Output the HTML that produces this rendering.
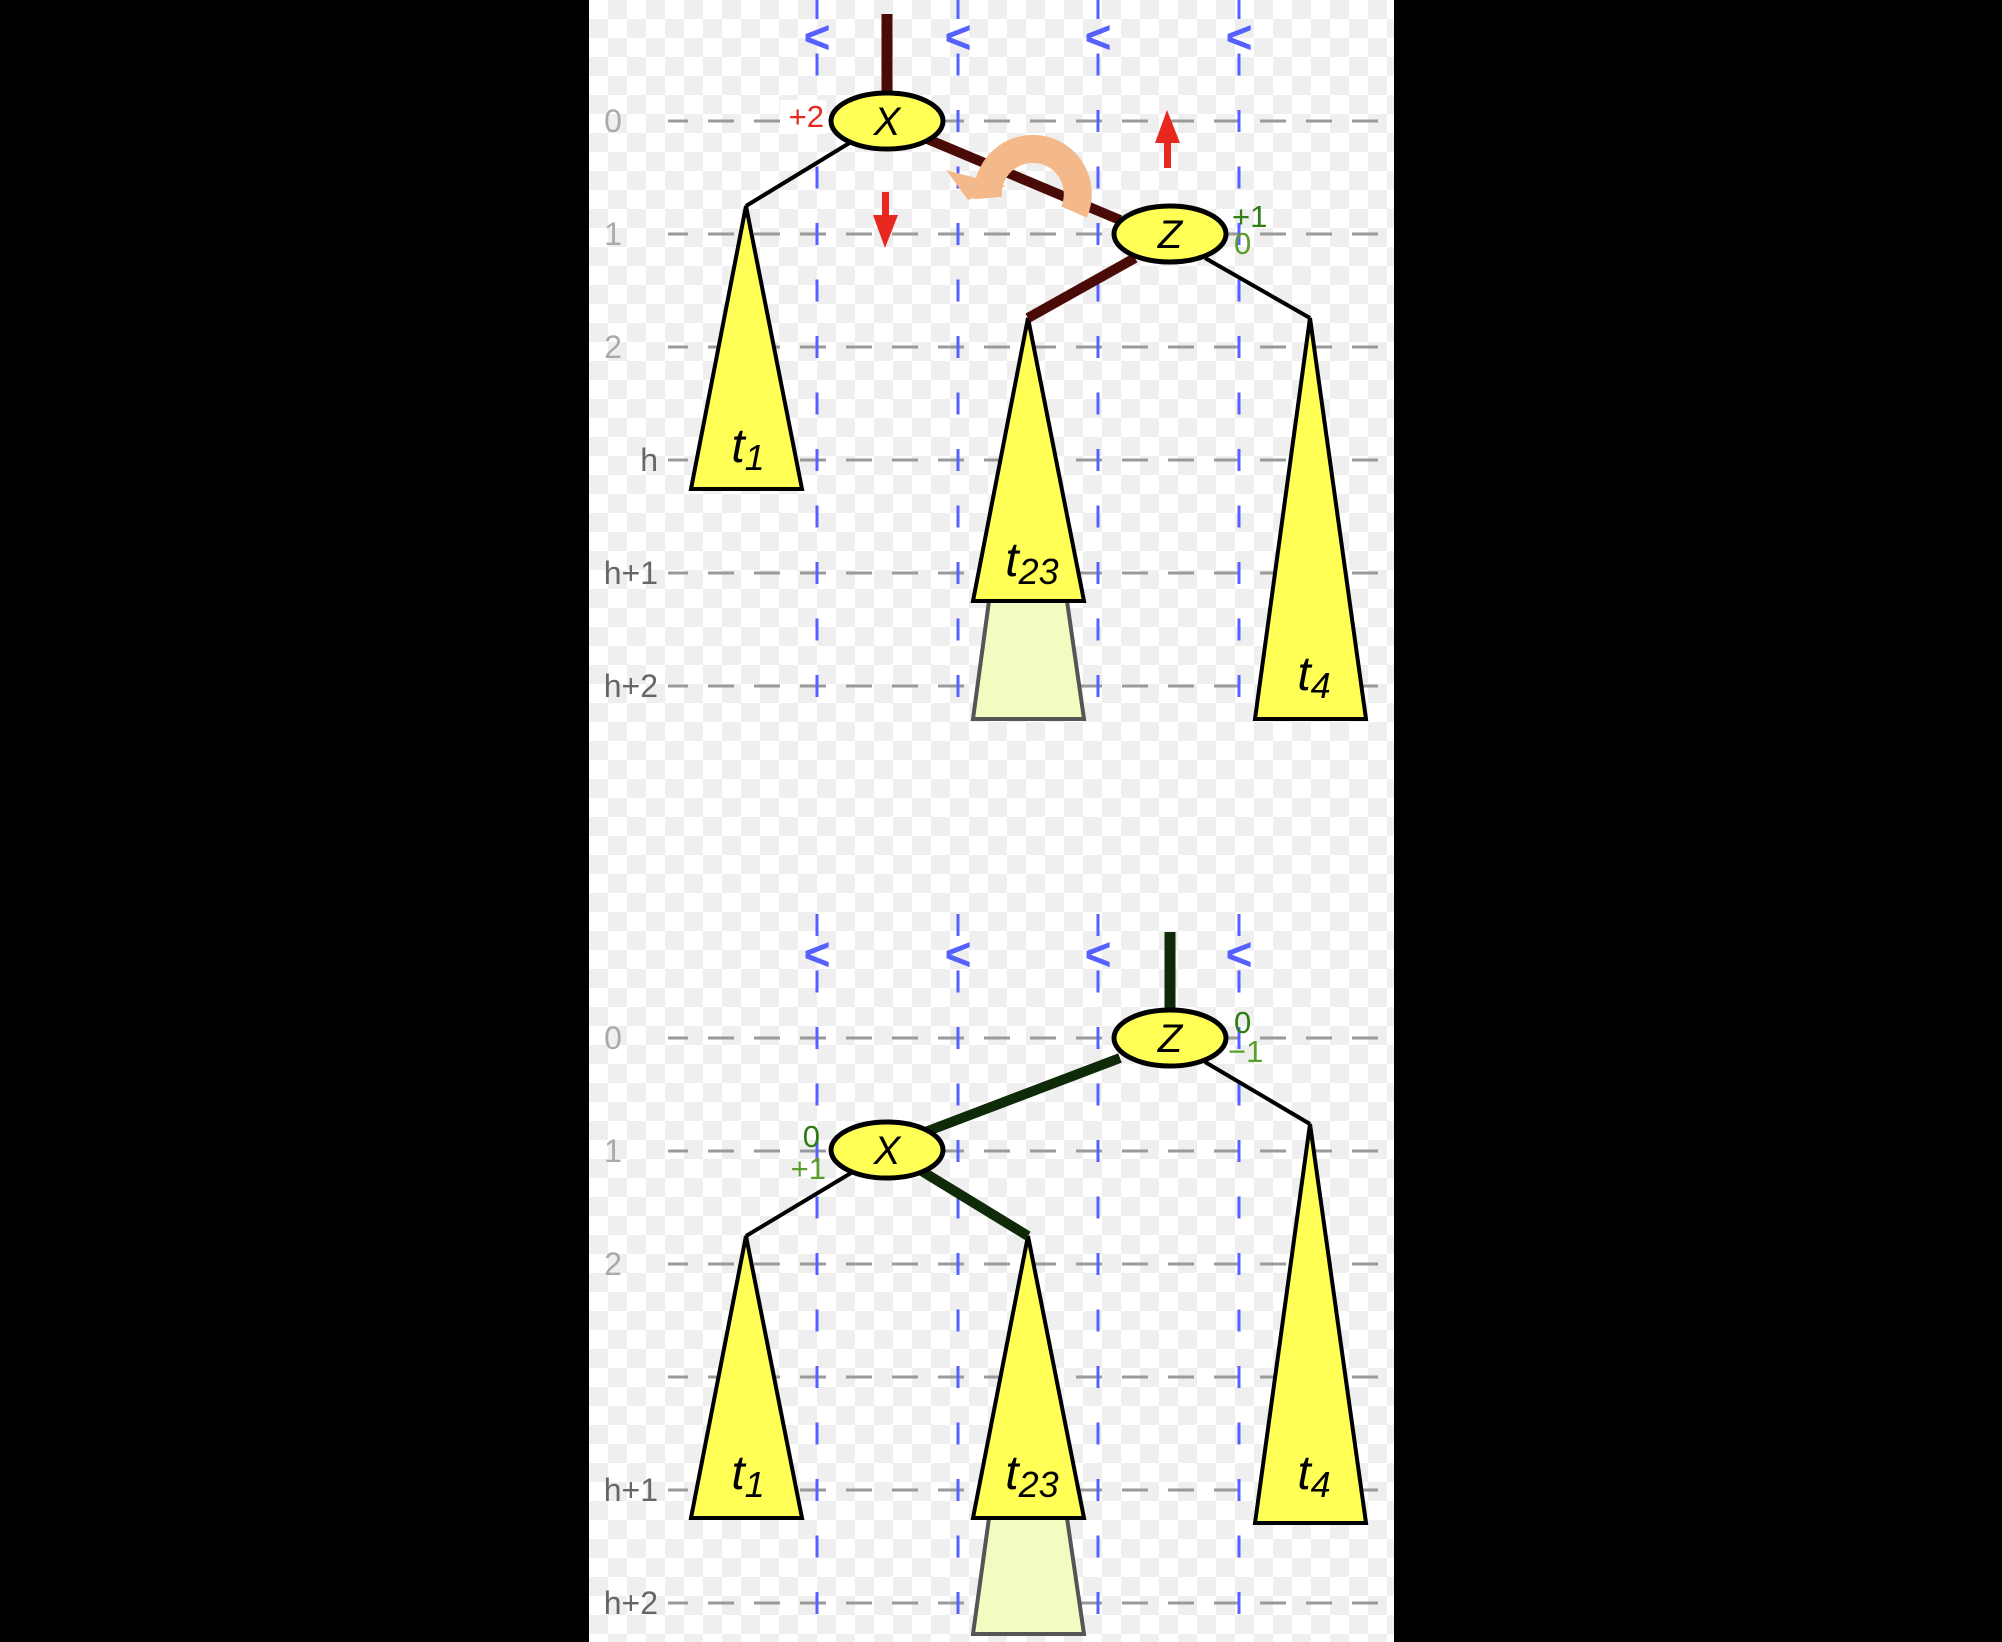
<!DOCTYPE html>
<html><head><meta charset="utf-8"><style>
html,body{margin:0;padding:0;background:#000;}
#wrap{position:relative;width:2002px;height:1642px;background:#000;overflow:hidden;}
#panel{position:absolute;left:589px;top:0;width:805px;height:1642px;
background-color:#fff;
background-image:conic-gradient(#efefef 25%,#fff 0 50%,#efefef 0 75%,#fff 0);
background-size:38px 38px;}
svg{position:absolute;left:0;top:0;}
text{font-family:"Liberation Sans",sans-serif;}
</style></head><body>
<div id="wrap">
<div id="panel"></div>
<svg id="svg" width="2002" height="1642"></svg>
</div>
<script>
const NS='http://www.w3.org/2000/svg';
const svg=document.getElementById('svg');
const rowLabels=[['0','1','2','h','h+1','h+2'],['0','1','2','','h+1','h+2']];
const panelTop=[121,1038];
const rowGap=113;
const colX=[817,958,1098,1239];
function mk(tag,attrs,parent){const e=document.createElementNS(NS,tag);for(const k in attrs)e.setAttribute(k,attrs[k]);(parent||svg).appendChild(e);return e;}
function txt(x,y,s,attrs){const t=mk('text',Object.assign({x:x,y:y},attrs));t.textContent=s;return t;}

// grid
[0,1].forEach(p=>{
  const g=mk('g',{});
  
  
  rowLabels[p].forEach((lab,i)=>{
    const y=panelTop[p]+i*rowGap;
    mk('line',{x1:668,x2:1394,y1:y,y2:y,stroke:'#9a9a9a','stroke-width':3,'stroke-dasharray':'26 20','stroke-dashoffset':6},g);
    if(lab){
      const isH=lab.startsWith('h');
      const t=txt(isH?658:613,y+11,lab,{'font-size':32,fill:isH?'#666':'#aaa','text-anchor':isH?'end':'middle'});
      
      
    }
  });
  colX.forEach(x=>{
    const top=panelTop[p];
    const y0=top-11-2*56.5, y1=p===0?730:1642;
    mk('line',{x1:x,x2:x,y1:y0,y2:y1,stroke:'#5560ff','stroke-width':3,'stroke-dasharray':'22 34.5'},g);
    const lt=txt(x,(p===0?38:955)+15,'<',{'font-size':46,fill:'#5560ff','text-anchor':'middle','font-weight':'bold'});
    
    
  });
});

function tri(apx,apy,bx1,bx2,by,label,lx,ly,name){
  const g=mk('g',{});
  
  
  mk('polygon',{points:`${apx},${apy} ${bx2},${by} ${bx1},${by}`,fill:'#ffff55',stroke:'#000','stroke-width':4,'stroke-linejoin':'miter'},g);
  const t=mk('text',{x:lx,y:ly,'font-size':48,'font-style':'italic','text-anchor':'middle',fill:'#000'},g);
  t.textContent=label[0];
  const s=mk('tspan',{'font-size':36,dy:8},t);s.textContent=label.slice(1);
}
function trap(x1,x2,y1,bx1,bx2,y2,name){
  const p=mk('polygon',{points:`${x1},${y1} ${x2},${y1} ${bx2},${y2} ${bx1},${y2}`,fill:'#f0fcc0',stroke:'#555','stroke-width':4});
  
  
}
function edge(x1,y1,x2,y2,c,w,name){
  const l=mk('line',{x1,y1,x2,y2,stroke:c,'stroke-width':w});
  
  
}
function node(cx,cy,label,name){
  const g=mk('g',{});
  
  
  mk('ellipse',{cx,cy,rx:56,ry:28,fill:'#ffff55',stroke:'#000','stroke-width':5},g);
  const t=mk('text',{x:cx,y:cy+14,'font-size':40,'font-style':'italic','text-anchor':'middle',fill:'#000'},g);
  t.textContent=label;
}
function bal(x,y,s,c,anchor,name){
  const t=txt(x,y,s,{'font-size':31,fill:c,'text-anchor':anchor||'start'});
  
  
}
const RED='#4a0a05', GRN='#0f2a08';

// ---- top panel ----
edge(887,14,887,95,RED,11,'root-stem-top');
trap(989,1067,601,973,1084,719,'t23-extension-top');
tri(746,206,691,802,489,'t1',748,462,'subtree-t1-top');
tri(1028,318,973,1084,601,'t23',1032,576,'subtree-t23-top');
tri(1310,318,1255,1366,719,'t4',1314,690,'subtree-t4-top');
edge(856,139,746,206,'#000',4,'edge-x-t1-top');
edge(925,138,1120,220,RED,10,'edge-x-z-top');
edge(1135,258,1028,318,RED,10,'edge-z-t23-top');
edge(1205,258,1310,318,'#000',4,'edge-z-t4-top');
// rotation arrow
const arc=mk('path',{d:'M1074,212 A45,45 0 1 0 988,198',fill:'none',stroke:'#f4b98a','stroke-width':28});


mk('polygon',{points:'968,200 946,170 1006,186',fill:'#f4b98a'});
mk('rect',{x:780,y:100,width:46,height:34,fill:'#fff'});
node(887,121,'X','node-x-top');
node(1170,234,'Z','node-z-top');
bal(824,127,'+2','#e8281e','end','balance-x-top');
bal(1232,227,'+1','#2e7d12','start','balance-z-old-top');
bal(1234,254,'0','#5a9e2a','start','balance-z-new-top');
// red arrows
const da=mk('g',{});
mk('rect',{x:882,y:192,width:7,height:28,fill:'#e8281e'},da);mk('polygon',{points:'873,215 898,215 885,248',fill:'#e8281e'},da);
const ua=mk('g',{});
mk('rect',{x:1164,y:138,width:7,height:30,fill:'#e8281e'},ua);mk('polygon',{points:'1155,143 1180,143 1167,110',fill:'#e8281e'},ua);

// ---- bottom panel ----
edge(1170,932,1170,1012,GRN,11,'root-stem-bottom');
trap(989,1067,1518,973,1084,1634,'t23-extension-bottom');
tri(746,1236,691,802,1518,'t1',748,1489,'subtree-t1-bottom');
tri(1028,1236,973,1084,1518,'t23',1032,1489,'subtree-t23-bottom');
tri(1310,1124,1255,1366,1523,'t4',1314,1489,'subtree-t4-bottom');
edge(1120,1058,920,1134,GRN,10,'edge-z-x-bottom');
edge(856,1170,746,1236,'#000',4,'edge-x-t1-bottom');
edge(920,1170,1028,1236,GRN,10,'edge-x-t23-bottom');
edge(1205,1062,1310,1124,'#000',4,'edge-z-t4-bottom');
node(1170,1038,'Z','node-z-bottom');
node(887,1150,'X','node-x-bottom');
bal(1234,1033,'0','#2e7d12','start','balance-z-old-bottom');
bal(1228,1062,'\u22121','#5a9e2a','start','balance-z-new-bottom');
bal(820,1147,'0','#2e7d12','end','balance-x-old-bottom');
bal(826,1179,'+1','#5a9e2a','end','balance-x-new-bottom');
</script>
</body></html>
